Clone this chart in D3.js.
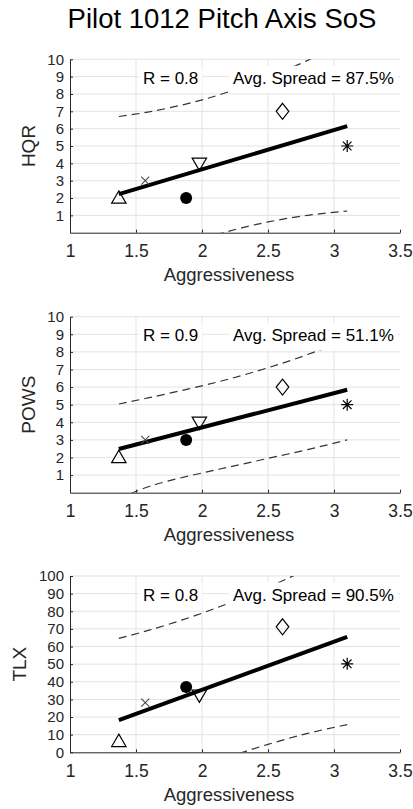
<!DOCTYPE html>
<html>
<head>
<meta charset="utf-8">
<script src="https://cdn.jsdelivr.net/npm/d3@7"></script>
<style>
  html, body { margin: 0; padding: 0; background: #fff; }
  svg { display: block; }
  text { font-family: "Liberation Sans", Arial, Helvetica, sans-serif; fill: #262626; }
</style>
</head>
<body>
<script>
// ---------------- data ----------------
const chartTitle = "Pilot 1012 Pitch Axis SoS";
const xLabel = "Aggressiveness";
const xTicks = [1, 1.5, 2, 2.5, 3, 3.5];
const markerTypes = ["triangleUp", "cross", "circle", "triangleDown", "diamond", "asterisk"];
const aggressiveness = [1.37, 1.57, 1.88, 1.98, 2.61, 3.10];

const hqrValues  = [2, 3, 2, 4, 7, 5];
const powsValues = [2, 3, 3, 4, 6, 5];
const tlxValues  = [6.2, 28.2, 37.1, 32.4, 71.2, 50.2];

const fitX = [1.37, 3.10];
const hqrFit  = [2.22, 6.15];
const powsFit = [2.48, 5.85];
const tlxFit  = [18.2, 65.5];

const bandX = [1.37, 1.6, 1.9, 2.2, 2.5, 2.8, 3.1];
const hqrUpper  = [6.70, 6.97, 7.46, 8.12, 8.96, 9.94, 11.05];
const hqrLower  = [-2.26, -1.49, -0.62, 0.08, 0.62, 1.00, 1.25];
const powsUpper = [5.04, 5.40, 5.90, 6.45, 7.10, 7.85, 8.70];
const powsLower = [-0.35, 0.35, 0.95, 1.45, 1.95, 2.45, 3.00];
const tlxUpper  = [64.6, 69.3, 76.3, 84.5, 93.7, 103.9, 115.3];
const tlxLower  = [-28.2, -20.3, -10.9, -2.7, 4.5, 10.7, 15.7];

const hqrTicks  = [1, 2, 3, 4, 5, 6, 7, 8, 9, 10];
const powsTicks = [1, 2, 3, 4, 5, 6, 7, 8, 9, 10];
const tlxTicks  = [0, 10, 20, 30, 40, 50, 60, 70, 80, 90, 100];

const yLabels = ["HQR", "POWS", "TLX"];
const rTexts = ["R = 0.8", "R = 0.9", "R = 0.8"];
const spreadTexts = ["Avg. Spread = 87.5%", "Avg. Spread = 51.1%", "Avg. Spread = 90.5%"];

// ---------------- layout ----------------
const W = 413, H = 809;
const left = 70, right = 400;
const panels = [
  { label: yLabels[0], values: hqrValues, fit: hqrFit, upper: hqrUpper, lower: hqrLower,
    domain: [0, 10], ticks: hqrTicks, r: rTexts[0], spread: spreadTexts[0], top: 59.3, bottom: 232.7, labelX: 35 },
  { label: yLabels[1], values: powsValues, fit: powsFit, upper: powsUpper, lower: powsLower,
    domain: [0, 10], ticks: powsTicks, r: rTexts[1], spread: spreadTexts[1], top: 316.7, bottom: 492.7, labelX: 35 },
  { label: yLabels[2], values: tlxValues, fit: tlxFit, upper: tlxUpper, lower: tlxLower,
    domain: [0, 100], ticks: tlxTicks, r: rTexts[2], spread: spreadTexts[2], top: 576, bottom: 752.3, labelX: 26 }
];

const svg = d3.select("body").append("svg").attr("width", W).attr("height", H);

svg.append("text")
  .attr("x", 222).attr("y", 28.3)
  .attr("text-anchor", "middle")
  .style("font-size", "27.5px")
  .style("fill", "#000")
  .text(chartTitle);

const x = d3.scaleLinear().domain([1, 3.5]).range([left, right]);

function markerPath(type) {
  switch (type) {
    case "triangleUp":   return "M0,-7.2L7.2,5.2L-7.2,5.2Z";
    case "triangleDown": return "M0,7.2L7.2,-5.2L-7.2,-5.2Z";
    case "diamond":      return "M0,-8L6.3,0L0,8L-6.3,0Z";
    case "cross":        return "M-4,-4L4,4M-4,4L4,-4";
    case "asterisk":     return "M0,-6L0,6M-6,0L6,0M-4.3,-4.3L4.3,4.3M-4.3,4.3L4.3,-4.3";
    default: return "";
  }
}

panels.forEach((p, i) => {
  const y = d3.scaleLinear().domain(p.domain).range([p.bottom, p.top]);
  const g = svg.append("g");
  const clipId = "clip" + i;
  svg.append("clipPath").attr("id", clipId)
    .append("rect").attr("x", left).attr("y", p.top).attr("width", right - left).attr("height", p.bottom - p.top);

  // grid
  g.append("g").selectAll("line.h").data(p.ticks.filter(t => t !== p.domain[0])).join("line")
    .attr("x1", left).attr("x2", right)
    .attr("y1", d => y(d)).attr("y2", d => y(d))
    .attr("stroke", "#e3e3e3").attr("stroke-width", 1);
  g.append("g").selectAll("line.v").data(xTicks.filter(t => t > 1 && t < 3.5)).join("line")
    .attr("y1", p.top).attr("y2", p.bottom)
    .attr("x1", d => x(d)).attr("x2", d => x(d))
    .attr("stroke", "#e3e3e3").attr("stroke-width", 1);

  // axes
  const xAxis = d3.axisBottom(x).tickValues(xTicks).tickSizeInner(-3).tickSizeOuter(0).tickPadding(12)
    .tickFormat(d3.format("~g"));
  const gx = g.append("g").attr("transform", `translate(0,${p.bottom})`).call(xAxis);
  const yAxis = d3.axisLeft(y).tickValues(p.ticks).tickSizeInner(-3).tickSizeOuter(0).tickPadding(6)
    .tickFormat(d3.format("~g"));
  const gy = g.append("g").attr("transform", `translate(${left},0)`).call(yAxis);
  [gx, gy].forEach(a => {
    a.select(".domain").attr("stroke", "#262626");
    a.selectAll(".tick line").attr("stroke", "#262626");
    a.selectAll(".tick text").style("font-family", '"Liberation Sans", Arial, sans-serif').attr("fill", "#262626");
  });
  gx.selectAll(".tick text").style("font-size", "17.5px");
  gy.selectAll(".tick text").style("font-size", "15px");

  // x label
  g.append("text")
    .attr("x", 229).attr("y", p.bottom + 48.4)
    .attr("text-anchor", "middle")
    .style("font-size", "18.5px")
    .text(xLabel);

  // y label
  g.append("text")
    .attr("transform", `translate(${p.labelX},${(p.top + p.bottom) / 2}) rotate(-90)`)
    .attr("text-anchor", "middle")
    .style("font-size", "19px")
    .text(p.label);

  const plot = g.append("g").attr("clip-path", `url(#${clipId})`);

  // prediction bands
  const bandLine = d3.line().x((d, k) => x(bandX[k])).y(d => y(d)).curve(d3.curveNatural);
  [p.upper, p.lower].forEach(arr => {
    plot.append("path").datum(arr)
      .attr("d", bandLine)
      .attr("fill", "none")
      .attr("stroke", "#333")
      .attr("stroke-width", 1.2)
      .attr("stroke-dasharray", "8,5");
  });

  // fit line
  const fitLine = d3.line().x((d, k) => x(fitX[k])).y(d => y(d));
  plot.append("path").datum(p.fit)
    .attr("d", fitLine)
    .attr("fill", "none")
    .attr("stroke", "#000")
    .attr("stroke-width", 4);

  // markers
  p.values.forEach((v, k) => {
    const t = markerTypes[k];
    const cx = x(aggressiveness[k]), cy = y(v);
    if (t === "circle") {
      g.append("circle").attr("cx", cx).attr("cy", cy).attr("r", 6)
        .attr("fill", "#000");
    } else {
      g.append("path")
        .attr("transform", `translate(${cx},${cy})`)
        .attr("d", markerPath(t))
        .attr("fill", "none")
        .attr("stroke", t === "cross" ? "#4a4a4a" : "#000")
        .attr("stroke-width", t === "cross" ? 1.1 : 1.2);
    }
  });

  // annotation boxes
  const annos = [{ txt: p.r, x: 143 }, { txt: p.spread, x: 233 }];
  annos.forEach(a => {
    const ag = g.append("g");
    const rect = ag.append("rect").attr("fill", "#fff");
    const t = ag.append("text").attr("x", a.x).attr("y", p.top + 24.5)
      .style("font-size", "17px").style("fill", "#000").text(a.txt);
    const bb = t.node().getBBox();
    rect.attr("x", bb.x - 4).attr("y", bb.y - 3).attr("width", bb.width + 8).attr("height", bb.height + 8);
  });
});
</script>
</body>
</html>
